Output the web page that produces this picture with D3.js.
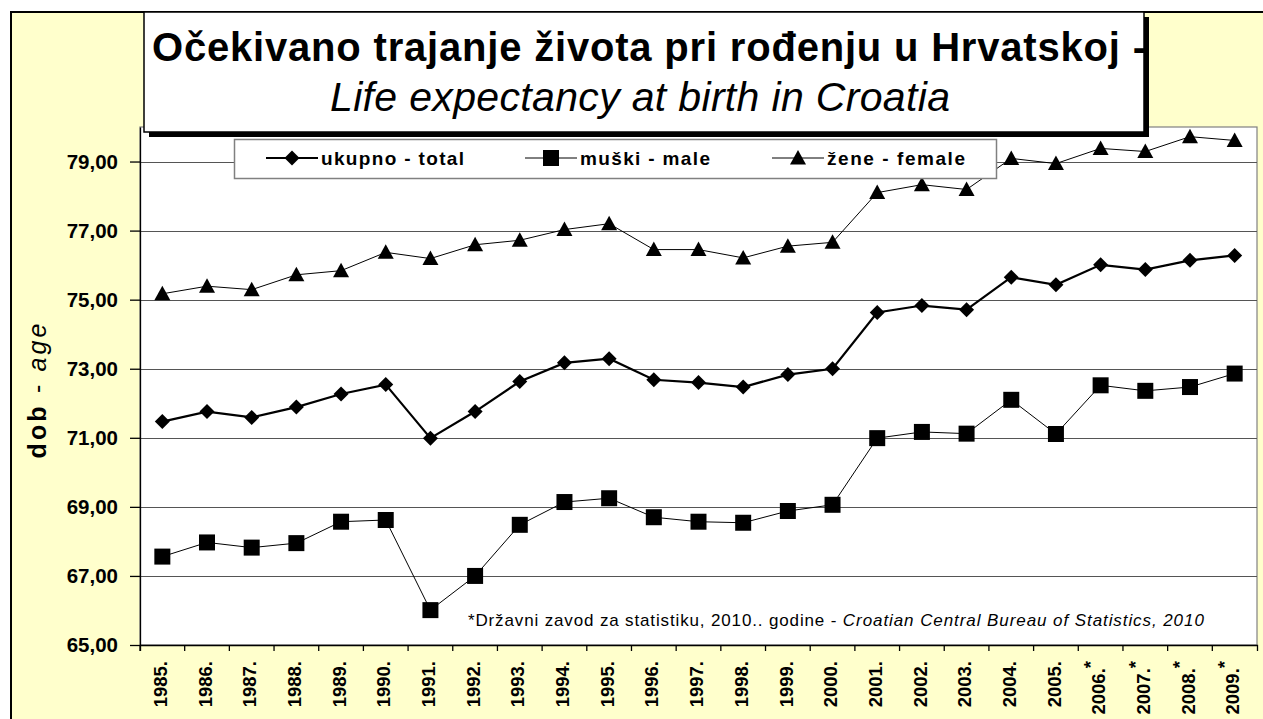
<!DOCTYPE html>
<html>
<head>
<meta charset="utf-8">
<script src="https://cdn.jsdelivr.net/npm/d3@7"></script>
<style>
  body { margin: 0; background: #fff; }
  text { font-family: "Liberation Sans", Arial, sans-serif; }
</style>
</head>
<body>
<script>
// godine i vrijednosti (ocitano sa slike)
var years = ["1985","1986","1987","1988","1989","1990","1991","1992","1993","1994","1995","1996","1997","1998","1999","2000","2001","2002","2003","2004","2005","2006","2007","2008","2009"];
var yearLabels = ["1985.","1986.","1987.","1988.","1989.","1990.","1991.","1992.","1993.","1994.","1995.","1996.","1997.","1998.","1999.","2000.","2001.","2002.","2003.","2004.","2005.","2006.*","2007.*","2008.*","2009.*"];

var total = [71.47, 71.76, 71.59, 71.89, 72.27, 72.54, 70.99, 71.76, 72.63, 73.17, 73.29, 72.68, 72.60, 72.47, 72.83, 73.00, 74.63, 74.83, 74.71, 75.65, 75.43, 76.01, 75.87, 76.14, 76.28];
var male = [67.56, 67.97, 67.82, 67.95, 68.57, 68.62, 66.01, 67.00, 68.48, 69.14, 69.25, 68.70, 68.57, 68.54, 68.88, 69.06, 70.99, 71.17, 71.12, 72.10, 71.11, 72.52, 72.36, 72.47, 72.86];
var female = [75.17, 75.39, 75.29, 75.72, 75.84, 76.37, 76.19, 76.59, 76.72, 77.03, 77.20, 76.45, 76.45, 76.21, 76.55, 76.66, 78.10, 78.33, 78.19, 79.09, 78.94, 79.38, 79.29, 79.72, 79.61];

var yTicks = [65, 67, 69, 71, 73, 75, 77, 79];

var width = 1263, height = 719;
var pLeft = 140, pRight = 1257, pTop = 127, pBottom = 645;

var svg = d3.select("body")
    .append("svg")
    .attr("width", width)
    .attr("height", height);

// okvir i zuta pozadina
svg.append("rect")
    .attr("x", 11).attr("y", 12)
    .attr("width", 1400).attr("height", 800)
    .attr("fill", "#FFFFCC")
    .attr("stroke", "#000")
    .attr("stroke-width", 2);

var xScale = d3.scaleBand()
    .domain(years)
    .range([pLeft, pRight]);

var yScale = d3.scaleLinear()
    .domain([65, 80])
    .range([pBottom, pTop]);

var bw = xScale.bandwidth();
function cx(i) { return xScale(years[i]) + bw / 2; }

// plot area
svg.append("rect")
    .attr("x", pLeft).attr("y", pTop)
    .attr("width", pRight - pLeft).attr("height", pBottom - pTop)
    .attr("fill", "#fff")
    .attr("stroke", "#808080")
    .attr("stroke-width", 1.2);

svg.append("g")
    .selectAll("line")
    .data(yTicks)
    .join("line")
    .attr("x1", pLeft).attr("x2", pRight)
    .attr("y1", d => Math.round(yScale(d)) + 0.5)
    .attr("y2", d => Math.round(yScale(d)) + 0.5)
    .attr("stroke", "#555")
    .attr("stroke-width", 1.2);

// y os
var yAxis = d3.axisLeft(yScale)
    .tickValues(yTicks)
    .tickSize(10)
    .tickSizeOuter(0)
    .tickPadding(12)
    .tickFormat(d => d3.format(".2f")(d).replace(".", ","));

var gy = svg.append("g")
    .attr("transform", "translate(" + pLeft + ",0)")
    .call(yAxis);
gy.selectAll("path, line").attr("stroke", "#000").attr("stroke-width", 1.3);
gy.selectAll("text")
    .attr("font-size", 20.5)
    .attr("font-weight", "bold")
    .attr("fill", "#000")
    .style("font-family", "'Liberation Sans', Arial, sans-serif");

// x os
var xAxis = d3.axisBottom(xScale)
    .tickSize(0)
    .tickSizeOuter(6)
    .tickFormat((d, i) => yearLabels[i]);

var gx = svg.append("g")
    .attr("transform", "translate(0," + pBottom + ")")
    .call(xAxis);
gx.select(".domain").attr("stroke", "#000").attr("stroke-width", 1.3);
gx.selectAll("text")
    .attr("transform", "rotate(-90)")
    .attr("text-anchor", "end")
    .attr("x", -16)
    .attr("y", -2)
    .attr("dy", "0.36em")
    .attr("font-size", 18.5)
    .attr("font-weight", "bold")
    .attr("fill", "#000")
    .style("font-family", "'Liberation Sans', Arial, sans-serif")
    .each(function(d, i) {
        var lab = yearLabels[i];
        if (lab.slice(-1) == "*") {
            var t = d3.select(this);
            t.text(lab.slice(0, -1));
            t.append("tspan").attr("dy", "-0.45em").text("*");
        }
    });

svg.append("g")
    .selectAll("line")
    .data(years)
    .join("line")
    .attr("x1", d => xScale(d)).attr("x2", d => xScale(d))
    .attr("y1", pBottom).attr("y2", pBottom + 6)
    .attr("stroke", "#000")
    .attr("stroke-width", 1.3);

// serije
var diamond = "M0,-7.5L7.5,0L0,7.5L-7.5,0Z";
var square = "M-8,-8H8V8H-8Z";
var triangle = "M0,-8L8,6.5L-8,6.5Z";

var series = [
    {vals: female, marker: triangle, lw: 1},
    {vals: male, marker: square, lw: 1},
    {vals: total, marker: diamond, lw: 2.2}
];

var line = d3.line()
    .x((d, i) => cx(i))
    .y(d => yScale(d));

series.forEach(function(s) {
    svg.append("path")
        .datum(s.vals)
        .attr("d", line)
        .attr("fill", "none")
        .attr("stroke", "#000")
        .attr("stroke-width", s.lw);

    svg.append("g")
        .selectAll("path")
        .data(s.vals)
        .join("path")
        .attr("d", s.marker)
        .attr("transform", (d, i) => "translate(" + cx(i) + "," + yScale(d) + ")")
        .attr("fill", "#000");
});

// napomena
var note = svg.append("text")
    .attr("x", 468).attr("y", 626)
    .attr("font-size", 17)
    .attr("fill", "#000");
note.append("tspan")
    .attr("textLength", 374)
    .text("*Državni zavod za statistiku, 2010.. godine - ");
note.append("tspan")
    .attr("font-style", "italic")
    .attr("textLength", 361)
    .text("Croatian Central Bureau of Statistics, 2010");

// naslov y osi
var yt = svg.append("text")
    .attr("transform", "translate(37,391) rotate(-90)")
    .attr("text-anchor", "middle")
    .attr("dy", "0.35em")
    .attr("font-size", 25)
    .attr("textLength", 135);
yt.append("tspan").attr("font-weight", "bold").text("dob");
yt.append("tspan").text(" - ");
yt.append("tspan").attr("font-style", "italic").text("age");

// naslov
svg.append("rect")
    .attr("x", 149).attr("y", 17)
    .attr("width", 1000).attr("height", 120)
    .attr("fill", "#000");
svg.append("rect")
    .attr("x", 144).attr("y", 12)
    .attr("width", 1000).attr("height", 120)
    .attr("fill", "#fff")
    .attr("stroke", "#000")
    .attr("stroke-width", 1.5);

svg.append("clipPath").attr("id", "tclip")
    .append("rect")
    .attr("x", 144).attr("y", 12)
    .attr("width", 1000).attr("height", 120);

svg.append("text")
    .attr("clip-path", "url(#tclip)")
    .attr("x", 152).attr("y", 61)
    .attr("font-size", 40)
    .attr("font-weight", "bold")
    .attr("textLength", 994)
    .text("Očekivano trajanje života pri rođenju u Hrvatskoj -");

svg.append("text")
    .attr("x", 640).attr("y", 111)
    .attr("text-anchor", "middle")
    .attr("font-size", 41)
    .attr("font-style", "italic")
    .attr("textLength", 620)
    .text("Life expectancy at birth in Croatia");

// legenda
svg.append("rect")
    .attr("x", 234.5).attr("y", 139.5)
    .attr("width", 762).attr("height", 39)
    .attr("fill", "#fff")
    .attr("stroke", "#808080")
    .attr("stroke-width", 1.5);

var legend = [
    {name: "ukupno - total", marker: diamond, x: 266, len: 143, lw: 2},
    {name: "muški - male", marker: square, x: 525, len: 130, lw: 1},
    {name: "žene - female", marker: triangle, x: 772, len: 138, lw: 1}
];

var lg = svg.append("g")
    .selectAll("g")
    .data(legend)
    .join("g")
    .attr("transform", d => "translate(" + d.x + ",158)");
lg.append("line")
    .attr("x1", 0).attr("x2", 52)
    .attr("stroke", "#000")
    .attr("stroke-width", d => d.lw);
lg.append("path")
    .attr("d", d => d.marker)
    .attr("transform", "translate(26,0)")
    .attr("fill", "#000");
lg.append("text")
    .attr("x", 55)
    .attr("dy", "0.35em")
    .attr("font-size", 19)
    .attr("font-weight", "bold")
    .attr("textLength", d => d.len)
    .text(d => d.name);
</script>
</body>
</html>
